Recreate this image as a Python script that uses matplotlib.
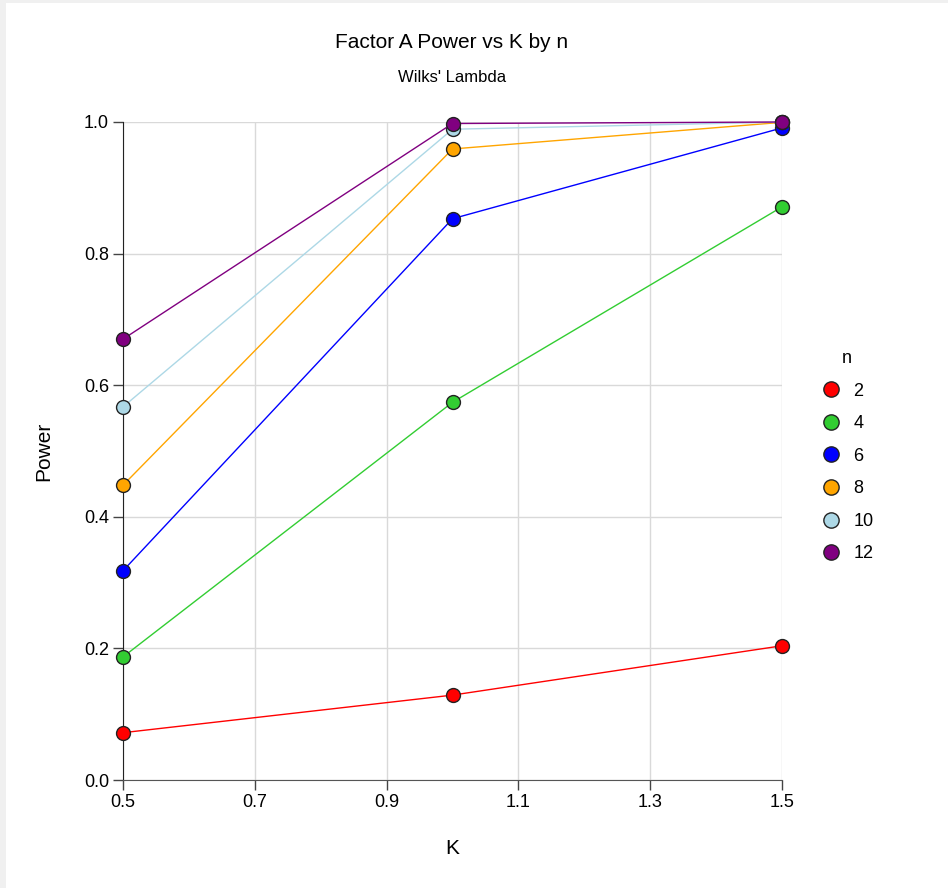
import matplotlib
matplotlib.use("Agg")
import matplotlib.pyplot as plt
from matplotlib.patches import Rectangle

plt.rcParams['font.family'] = ['Liberation Sans', 'DejaVu Sans']

K = [0.5, 1.0, 1.5]
n_labels = ["2", "4", "6", "8", "10", "12"]
power_n2 = [0.0719, 0.129, 0.204]
power_n4 = [0.187, 0.574, 0.871]
power_n6 = [0.318, 0.853, 0.991]
power_n8 = [0.448, 0.959, 0.9995]
power_n10 = [0.567, 0.989, 0.9999]
power_n12 = [0.670, 0.9977, 1.0]
series = [power_n2, power_n4, power_n6, power_n8, power_n10, power_n12]
colors = ["#ff0000", "#32cd32", "#0000ff", "#ffa500", "#add8e6", "#800080"]
x_ticks = [0.5, 0.7, 0.9, 1.1, 1.3, 1.5]
y_ticks = [0.0, 0.2, 0.4, 0.6, 0.8, 1.0]

W, H = 948, 888
fig = plt.figure(figsize=(W / 100, H / 100), dpi=100)
fig.patch.set_facecolor("#f0f0f0")
fig.patches.append(Rectangle((6 / W, 0), 1, 1 - 3 / H, transform=fig.transFigure,
                             facecolor="white", edgecolor="none", zorder=-10))

ax = fig.add_axes([123 / W, 1 - 780 / H, (782 - 123) / W, (780 - 122) / H])
ax.set_facecolor("none")

for vals, c, lab in zip(series, colors, n_labels):
    ax.plot(K, vals, color=c, lw=1.0, marker="o", markersize=10,
            markerfacecolor=c, markeredgecolor="#222222", markeredgewidth=1.0,
            label=lab, clip_on=False, zorder=3)

ax.set_xlim(0.5, 1.5)
ax.set_ylim(0.0, 1.0)
ax.set_xticks(x_ticks)
ax.set_yticks(y_ticks)
ax.set_xticklabels([f"{v:.1f}" for v in x_ticks])
ax.set_yticklabels([f"{v:.1f}" for v in y_ticks])
ax.grid(True, color="#d9d9d9", lw=1.0, zorder=0)
ax.set_axisbelow(True)
for s in ["top", "right"]:
    ax.spines[s].set_visible(False)
ax.spines["left"].set_color("#222222")
ax.spines["bottom"].set_color("#555555")
ax.tick_params(axis="both", direction="out", length=7, width=1, labelsize=13,
               color="#444444", pad=3)
ax.set_xlabel("K", fontsize=15, labelpad=20)
ax.set_ylabel("Power", fontsize=15, labelpad=22)

fig.text(452 / W, 1 - 42 / H, "Factor A Power vs K by n", ha="center", va="center", fontsize=15)
fig.text(452 / W, 1 - 77 / H, "Wilks' Lambda", ha="center", va="center", fontsize=12)

leg = ax.legend(title="n", loc="upper left", bbox_to_anchor=(812 / W, 1 - 343 / H),
                bbox_transform=fig.transFigure, frameon=False, fontsize=13,
                title_fontsize=13, labelspacing=0.86, handlelength=1.3,
                handletextpad=0.6, borderaxespad=0, markerscale=1.1)
for line in leg.get_lines():
    line.set_linestyle("none")

fig.savefig("out.png", dpi=100)
